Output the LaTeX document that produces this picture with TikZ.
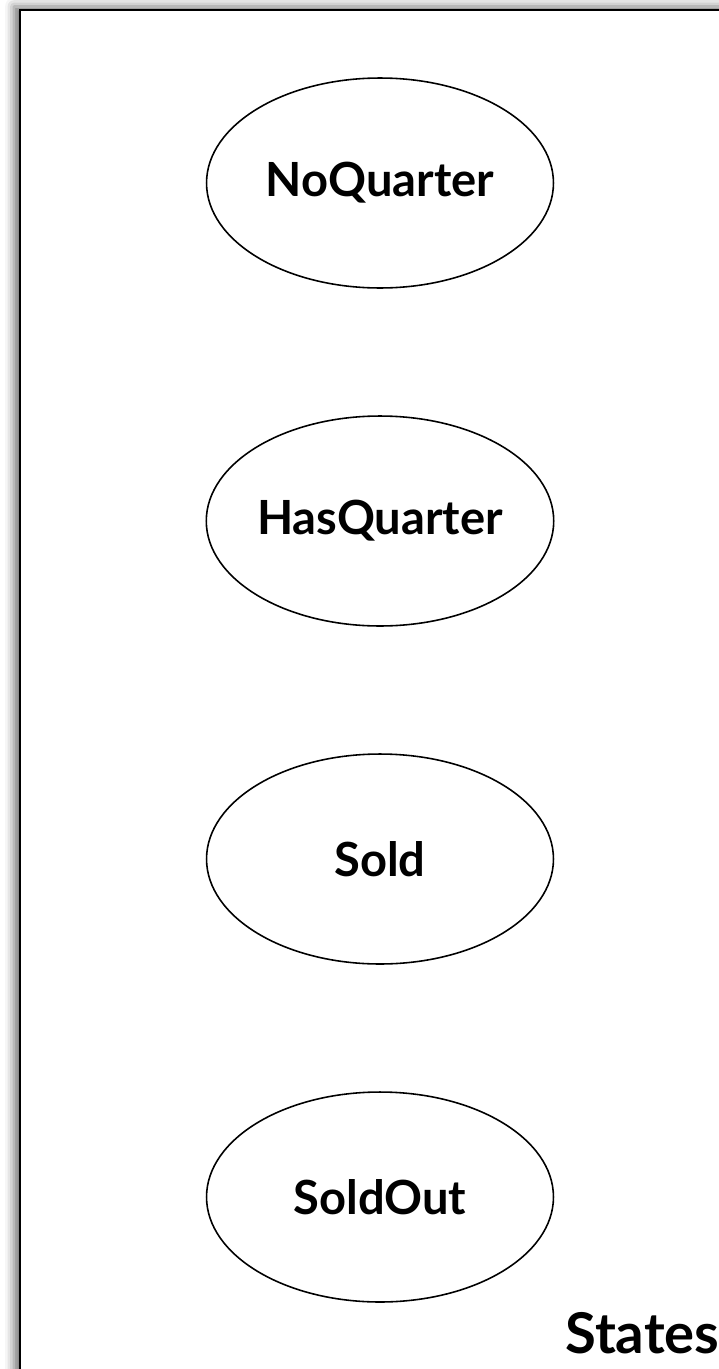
\documentclass[tikz,border=0pt]{standalone}
\usepackage{fontspec}
\setmainfont{Lato}
\usetikzlibrary{shapes.geometric,shadows.blur}
\tikzset{
	state/.style={draw,ellipse,line width=0.9pt,minimum width=6.94cm,minimum height=4.2cm,inner sep=0pt,font=\bfseries\fontsize{26.8}{32}\selectfont},
	title/.style={anchor=base west,inner sep=0pt,font=\bfseries\fontsize{32}{38}\selectfont}
}
\begin{document}
\begin{tikzpicture}[x=0.02cm,y=-0.02cm]
		\useasboundingbox (0,0) rectangle (719,1369);
		\clip (0,0) rectangle (719,1369);
		\draw[line width=1.3pt,fill=white,blur shadow={shadow xshift=-3.5pt,shadow yshift=2pt,shadow blur radius=5pt,shadow opacity=55}] (20,10) rectangle (760,1420);
		\foreach \s [count=\i] in {NoQuarter,HasQuarter,Sold,SoldOut}{
			\node[state] (s\i) at (380,{183+338*(\i-1)}) {\s};
		}
		\node[title] (states) at (565,1353) {States};
	\end{tikzpicture}
\end{document}
